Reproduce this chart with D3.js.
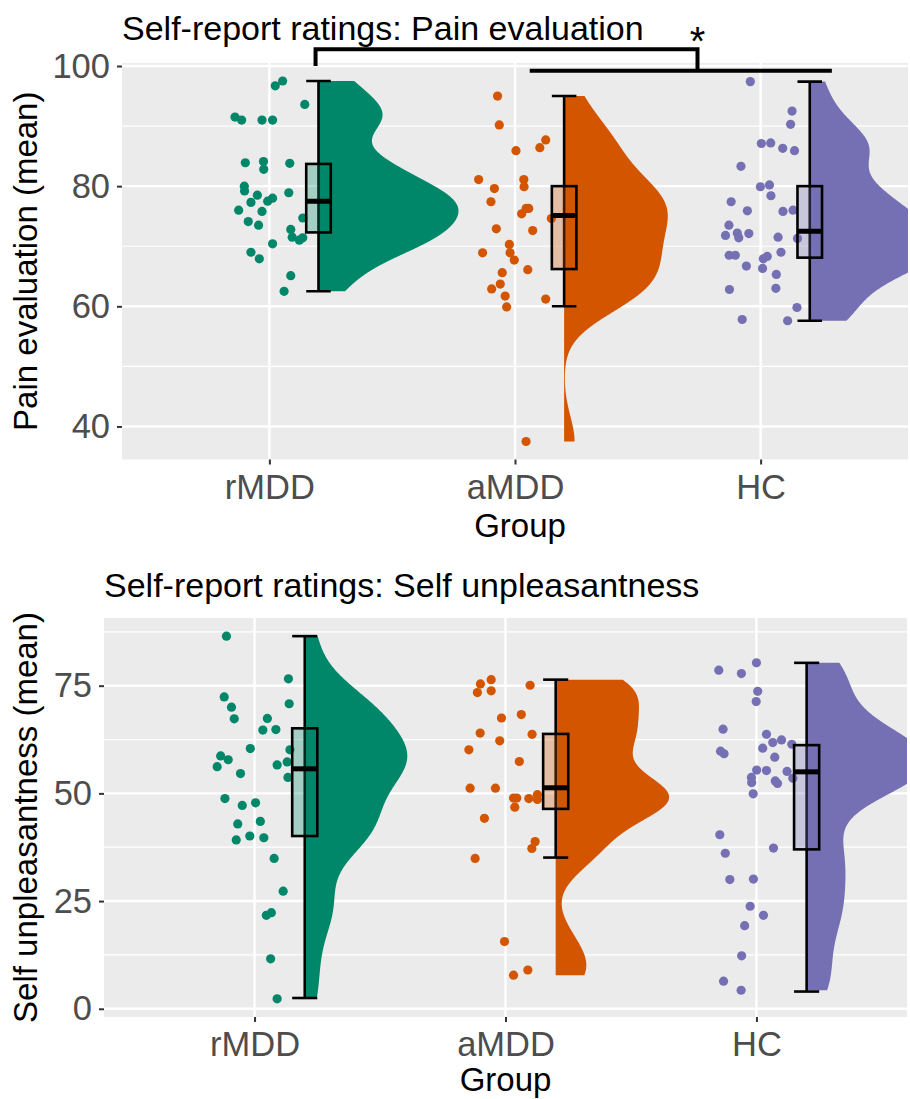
<!DOCTYPE html>
<html>
<head>
<meta charset="utf-8">
<script src="https://cdn.jsdelivr.net/npm/d3@7"></script>
<style>
  body { margin: 0; background: #fff; }
  svg { display: block; font-family: "Liberation Sans", Arial, Helvetica, sans-serif; }
</style>
</head>
<body>
<div id="chart"></div>
<script>
const groups = ["rMDD", "aMDD", "HC"];
const groupColors = ["#00876A", "#D45500", "#7570B3"];

// ---- Pain evaluation (mean) ----
const painRmdd = [97.5, 96.7, 93.6, 91.5, 91.0, 91.0, 91.0, 83.9, 84.1, 82.8, 83.8, 80.0, 79.2, 78.5, 77.3, 77.5,
  78.0, 78.9, 76.0, 75.8, 74.1, 73.5, 74.7, 72.8, 71.5, 71.0, 71.4, 70.4, 69.0, 67.9, 65.1, 62.5];
const painRmddJit = [0.054, 0.024, 0.144, -0.140, -0.113, -0.030, 0.013, -0.098, -0.024, -0.023, 0.083, -0.102, -0.101, -0.049, -0.075, -0.007,
  0.013, 0.079, -0.125, -0.030, -0.086, -0.044, 0.136, 0.087, 0.093, 0.122, 0.136, 0.013, -0.075, -0.041, 0.087, 0.060];
const painAmdd = [95.0, 90.2, 87.7, 86.4, 85.9, 81.1, 81.1, 79.9, 79.6, 77.4, 76.3, 76.3, 75.4, 74.6,
  72.9, 72.6, 70.3, 68.9, 68.9, 67.7, 66.1, 65.6, 63.7, 62.9, 61.7, 61.2, 59.9, 37.5];
const painAmddJit = [-0.071, -0.064, 0.125, 0.101, 0.004, -0.148, 0.036, 0.037, -0.084, -0.098, 0.045, 0.056, 0.027, 0.148,
  -0.076, 0.072, -0.023, -0.132, -0.020, -0.003, 0.052, -0.052, -0.060, -0.095, -0.040, 0.125, -0.034, 0.045];
const painHc = [97.4, 92.5, 90.3, 87.1, 87.2, 86.3, 85.9, 83.3, 79.9, 80.2, 78.4, 77.4, 75.9, 75.8, 76.0, 73.5, 71.8, 72.2,
  71.4, 72.1, 71.5, 71.3, 68.5, 68.5, 69.0, 67.9, 68.3, 66.7, 66.3, 65.3, 63.0, 62.8, 59.8, 57.8, 57.6];
const painHcJit = [-0.042, 0.128, 0.122, 0.003, 0.041, 0.090, 0.138, -0.080, -0.001, 0.036, 0.042, -0.120, -0.054, 0.091, 0.132, -0.129, -0.143, -0.095,
  -0.089, -0.048, 0.071, 0.150, -0.128, -0.103, 0.083, 0.011, 0.027, -0.058, 0.008, 0.064, 0.062, -0.127, 0.148, -0.075, 0.110];
// box stats: [lower whisker, q1, median, q3, upper whisker]
const painBoxRmdd = [62.5, 72.3, 77.5, 83.7, 97.5];
const painBoxAmdd = [60.0, 66.2, 75.1, 80.0, 95.0];
const painBoxHc = [57.6, 68.1, 72.5, 80.0, 97.4];
const painTicks = [40, 60, 80, 100];

// ---- Self unpleasantness (mean) ----
const unplRmdd = [86.5, 76.6, 72.4, 70.8, 70.0, 67.3, 67.4, 64.7, 64.8, 60.4, 60.1, 58.7, 57.8, 56.2, 56.6, 57.3,
  54.6, 53.7, 48.8, 47.2, 47.8, 42.9, 43.5, 40.1, 39.2, 39.7, 34.9, 27.3, 21.7, 22.3, 11.6, 2.3];
const unplRmddJit = [-0.112, 0.135, -0.121, 0.138, -0.092, -0.081, 0.051, 0.033, 0.085, -0.017, 0.141, -0.135, -0.105, -0.149, 0.090, 0.130,
  -0.056, 0.133, -0.118, -0.049, 0.004, -0.067, 0.023, -0.019, -0.073, 0.037, 0.078, 0.114, 0.047, 0.067, 0.064, 0.090];
const unplAmdd = [76.4, 75.4, 73.4, 73.8, 75.1, 67.5, 68.3, 64.0, 63.7, 62.2, 60.1, 57.4, 51.2, 51.2,
  48.9, 48.9, 48.8, 49.7, 48.6, 46.8, 44.2, 38.8, 37.2, 34.9, 15.6, 9.0, 7.8];
const unplAmddJit = [-0.057, -0.100, -0.112, -0.057, 0.098, -0.016, 0.063, -0.101, 0.106, -0.023, -0.146, 0.055, -0.141, -0.040,
  0.032, 0.045, 0.093, 0.127, 0.127, 0.037, -0.084, 0.118, 0.105, -0.121, -0.004, 0.089, 0.032];
const unplHc = [80.3, 78.6, 77.8, 73.7, 71.3, 64.9, 63.7, 62.4, 61.8, 61.4, 60.5, 59.8, 59.2, 58.4, 55.4, 55.3, 55.1,
  53.7, 53.5, 52.5, 52.9, 52.3, 49.9, 40.4, 37.3, 36.1, 30.0, 30.1, 23.8, 21.7, 19.3, 12.3, 6.4, 4.3];
const unplHcJit = [0.000, -0.150, -0.060, 0.005, -0.001, -0.133, 0.040, 0.100, 0.065, 0.141, 0.025, -0.143, -0.129, 0.073, 0.001, 0.040, 0.122,
  -0.020, 0.145, -0.019, 0.075, 0.084, -0.013, -0.146, 0.068, -0.124, -0.106, -0.012, -0.025, 0.028, -0.047, -0.059, -0.131, -0.061];
const unplBoxRmdd = [2.5, 40.1, 55.7, 65.1, 86.5];
const unplBoxAmdd = [35.1, 46.4, 51.3, 63.8, 76.4];
const unplBoxHc = [4.0, 37.0, 55.0, 61.2, 80.3];
const unplTicks = [0, 25, 50, 75];

const W = 910, H = 1099;
const svg = d3.select("#chart").append("svg")
  .attr("width", W).attr("height", H)
  .attr("viewBox", `0 0 ${W} ${H}`);
svg.append("rect").attr("width", W).attr("height", H).attr("fill", "#fff");

// silverman's rule, same as R bw.nrd0
function bwNrd0(v) {
  const s = v.slice().sort(d3.ascending);
  const sd = d3.deviation(s);
  const iqr = d3.quantile(s, 0.75) - d3.quantile(s, 0.25);
  const lo = Math.min(sd, iqr / 1.34);
  return 0.9 * lo * Math.pow(s.length, -0.2);
}

// gaussian kde over the data range (trimmed violin)
function density(v, adjust) {
  const bw = bwNrd0(v) * adjust;
  const [lo, hi] = d3.extent(v);
  const n = 512;
  return d3.range(n).map(k => {
    const t = lo + (hi - lo) * k / (n - 1);
    const d = d3.mean(v, x => Math.exp(-0.5 * ((t - x) / bw) ** 2)) / (bw * Math.sqrt(2 * Math.PI));
    return [t, d];
  });
}

function drawPanel(p) {
  const g = svg.append("g");

  const x = d3.scalePoint().domain(groups).range([p.left, p.right]).padding(0.6);
  const step = x.step();

  const all = p.values.flat();
  const [dmin, dmax] = d3.extent(all);
  const pad = (dmax - dmin) * 0.05;
  const y = d3.scaleLinear().domain([dmin - pad, dmax + pad]).range([p.bottom, p.top]);

  const clipId = "clip-" + p.id;
  g.append("clipPath").attr("id", clipId)
    .append("rect")
      .attr("x", p.left).attr("y", p.top)
      .attr("width", p.right - p.left).attr("height", p.bottom - p.top);

  // panel background + grid
  g.append("rect")
    .attr("x", p.left).attr("y", p.top)
    .attr("width", p.right - p.left).attr("height", p.bottom - p.top)
    .attr("fill", "#EBEBEB");

  const tStep = p.ticks[1] - p.ticks[0];
  const minor = [p.ticks[0] - tStep / 2].concat(p.ticks.map(t => t + tStep / 2))
    .filter(t => t > y.domain()[0] && t < y.domain()[1]);

  g.append("g").selectAll("line")
    .data(minor)
    .join("line")
      .attr("x1", p.left).attr("x2", p.right)
      .attr("y1", d => y(d)).attr("y2", d => y(d))
      .attr("stroke", "#fff").attr("stroke-width", 1.2);

  g.append("g").selectAll("line")
    .data(p.ticks)
    .join("line")
      .attr("x1", p.left).attr("x2", p.right)
      .attr("y1", d => y(d)).attr("y2", d => y(d))
      .attr("stroke", "#fff").attr("stroke-width", 2.4);

  g.append("g").selectAll("line")
    .data(groups)
    .join("line")
      .attr("x1", d => x(d)).attr("x2", d => x(d))
      .attr("y1", p.top).attr("y2", p.bottom)
      .attr("stroke", "#fff").attr("stroke-width", 2.4);

  const plot = g.append("g").attr("clip-path", `url(#${clipId})`);

  // half violins (scale = "area": one max for the whole panel)
  const dens = p.values.map(v => density(v, p.adjust));
  const maxD = d3.max(dens, d => d3.max(d, e => e[1]));
  const vw = d3.scaleLinear().domain([0, maxD]).range([0, p.vmax * step]);

  groups.forEach((grp, i) => {
    const x0 = x(grp) + 0.2 * step;
    const area = d3.area()
      .y(d => y(d[0]))
      .x0(x0)
      .x1(d => x0 + vw(d[1]));
    plot.append("path")
      .datum(dens[i])
      .attr("d", area)
      .attr("fill", groupColors[i]);
  });

  // jittered points
  groups.forEach((grp, i) => {
    plot.append("g").selectAll("circle")
      .data(p.values[i].map((v, k) => [v, p.jitter[i][k]]))
      .join("circle")
        .attr("cx", d => x(grp) + d[1] * step)
        .attr("cy", d => y(d[0]))
        .attr("r", 4.6)
        .attr("fill", groupColors[i]);
  });

  // error bars + boxes
  groups.forEach((grp, i) => {
    const b = p.boxes[i];
    const cx = x(grp) + 0.2 * step;
    const hw = 0.05 * step;
    const eb = plot.append("g").attr("stroke", "#000").attr("stroke-width", 2.6);
    eb.append("line").attr("x1", cx).attr("x2", cx).attr("y1", y(b[0])).attr("y2", y(b[4]));
    eb.append("line").attr("x1", cx - hw).attr("x2", cx + hw).attr("y1", y(b[0])).attr("y2", y(b[0]));
    eb.append("line").attr("x1", cx - hw).attr("x2", cx + hw).attr("y1", y(b[4])).attr("y2", y(b[4]));

    plot.append("rect")
      .attr("x", cx - hw).attr("width", 2 * hw)
      .attr("y", y(b[3])).attr("height", y(b[1]) - y(b[3]))
      .attr("fill", groupColors[i]).attr("fill-opacity", 0.3)
      .attr("stroke", "#000").attr("stroke-width", 2.6);
    plot.append("line")
      .attr("x1", cx - hw).attr("x2", cx + hw)
      .attr("y1", y(b[2])).attr("y2", y(b[2]))
      .attr("stroke", "#000").attr("stroke-width", 5);
  });

  // axes
  const yAxis = g.append("g")
    .attr("transform", `translate(${p.left},0)`)
    .call(d3.axisLeft(y).tickValues(p.ticks).tickSize(5).tickPadding(7));
  const xAxis = g.append("g")
    .attr("transform", `translate(0,${p.bottom})`)
    .call(d3.axisBottom(x).tickSize(5).tickPadding(10));
  [yAxis, xAxis].forEach(a => {
    a.select(".domain").remove();
    a.selectAll(".tick line").attr("stroke", "#333").attr("stroke-width", 2);
    a.selectAll(".tick text")
      .attr("fill", "#4D4D4D")
      .style("font-size", "34.5px")
      .style("font-family", "'Liberation Sans', Arial, sans-serif");
  });

  // titles
  g.append("text")
    .attr("x", p.left).attr("y", p.titleY)
    .style("font-size", "34px")
    .text(p.title);
  g.append("text")
    .attr("x", (p.left + p.right) / 2 + p.groupDx).attr("y", p.bottom + p.groupDy)
    .attr("text-anchor", "middle")
    .style("font-size", "33px")
    .text("Group");
  g.append("text")
    .attr("transform", `translate(37,${(p.top + p.bottom) / 2}) rotate(-90)`)
    .attr("text-anchor", "middle")
    .style("font-size", "33px")
    .text(p.ylab);

  return { x, y, step };
}

const painPanel = drawPanel({
  id: "pain", left: 122, right: 908, top: 63, bottom: 459.5, titleY: 40,
  groupDx: 5, groupDy: 77, adjust: 0.85, vmax: 0.57,
  title: "Self-report ratings: Pain evaluation",
  ylab: "Pain evaluation (mean)",
  values: [painRmdd, painAmdd, painHc],
  jitter: [painRmddJit, painAmddJit, painHcJit],
  boxes: [painBoxRmdd, painBoxAmdd, painBoxHc],
  ticks: painTicks
});

drawPanel({
  id: "unpl", left: 104, right: 907, top: 618, bottom: 1017, titleY: 597,
  groupDx: 0, groupDy: 74, adjust: 0.75, vmax: 0.48,
  title: "Self-report ratings: Self unpleasantness",
  ylab: "Self unpleasantness (mean)",
  values: [unplRmdd, unplAmdd, unplHc],
  jitter: [unplRmddJit, unplAmddJit, unplHcJit],
  boxes: [unplBoxRmdd, unplBoxAmdd, unplBoxHc],
  ticks: unplTicks
});

// significance bracket on the pain panel (positions in group-index units)
const gx = i => painPanel.x(groups[0]) + i * painPanel.step;
const py = painPanel.y;
const sig = svg.append("g").attr("stroke", "#000").attr("stroke-width", 4).attr("fill", "none");
sig.append("path")
  .attr("d", d3.line()([[gx(0.188), py(100)], [gx(0.188), py(102.8)], [gx(1.743), py(102.8)], [gx(1.743), py(99.2)]]));
sig.append("line")
  .attr("x1", gx(1.06)).attr("x2", gx(2.29))
  .attr("y1", py(99.2)).attr("y2", py(99.2));
svg.append("text")
  .attr("x", gx(1.743)).attr("y", py(101.8))
  .attr("text-anchor", "middle")
  .style("font-size", "40px")
  .text("*");
</script>
</body>
</html>
